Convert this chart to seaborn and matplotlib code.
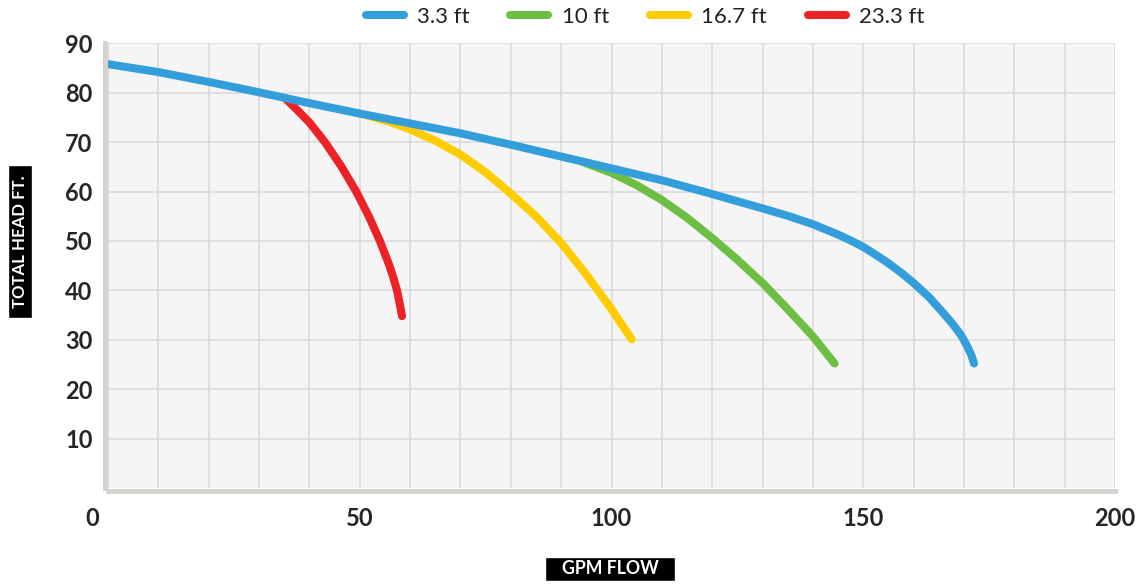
import pandas as pd
import seaborn as sns
import matplotlib.pyplot as plt
from matplotlib.lines import Line2D
from matplotlib.patches import Rectangle

# curve readings: flow (gpm) vs total head (ft)
blue_gpm = [0, 10, 20, 30, 40, 50, 60, 70, 80, 90, 100, 110, 120, 130, 135, 140, 145, 147.5, 150, 152.5, 155, 157.5, 160, 163, 166, 168, 169.5, 170.7, 171.5, 172]
blue_head = [85.8, 84.2, 82.2, 80.1, 77.9, 75.8, 73.8, 71.8, 69.5, 67.1, 64.7, 62.3, 59.5, 56.6, 55.1, 53.4, 51.3, 50.1, 48.8, 47.2, 45.5, 43.6, 41.5, 38.7, 35.3, 32.9, 30.8, 28.6, 26.8, 25.2]

green_gpm = [94, 100, 105, 110, 115, 120, 125, 130, 135, 140, 144.3]
green_head = [66.1, 63.8, 61.3, 58.3, 54.7, 50.6, 46.2, 41.5, 36.2, 30.7, 25.2]

yellow_gpm = [51.5, 56, 60, 65, 70, 75, 80, 85, 90, 95, 100, 104]
yellow_head = [75.4, 74.1, 72.6, 70.3, 67.5, 63.9, 59.6, 55.0, 49.6, 43.2, 36.2, 30.1]

red_gpm = [35.2, 37.5, 40, 43.1, 46.4, 49.3, 51.8, 54.0, 55.9, 56.7, 57.4, 57.9, 58.4]
red_head = [78.9, 76.6, 74.0, 70.0, 65.0, 60.0, 55.0, 50.0, 45.0, 42.5, 40.0, 37.5, 34.8]

labels = ["3.3 ft", "10 ft", "16.7 ft", "23.3 ft"]
colors = ["#349edb", "#6dbf43", "#ffcc00", "#ed2227"]

x_ticks = [0, 50, 100, 150, 200]
y_ticks = [10, 20, 30, 40, 50, 60, 70, 80, 90]

series = [(blue_gpm, blue_head), (green_gpm, green_head), (yellow_gpm, yellow_head), (red_gpm, red_head)]
frames = []
for lab, (g, h) in zip(labels, series):
    frames.append(pd.DataFrame({"gpm": g, "head": h, "depth": lab}))
df = pd.concat(frames)

sns.set_style("white")
plt.rcParams['font.family'] = ['Lato', 'DejaVu Sans']

fig = plt.figure(figsize=(11.43, 5.86), dpi=100)
ax = fig.add_axes([108 / 1143, 98 / 586, 1007 / 1143, 444.6 / 586])
ax.set_facecolor("#f5f5f5")

# blue drawn last so it sits on top of the branches
draw_order = labels[::-1]
pal = dict(zip(labels, colors))
sns.lineplot(data=df, x="gpm", y="head", hue="depth", hue_order=draw_order,
             palette=pal, sort=False, estimator=None, linewidth=5.8,
             solid_capstyle="round", solid_joinstyle="round", legend=False, ax=ax)

ax.set_xlim(0, 200)
ax.set_ylim(0, 90)
ax.set_xticks(x_ticks)
ax.set_xticks(range(0, 201, 10), minor=True)
ax.set_yticks(y_ticks)
ax.grid(True, which="both", axis="x", color="#d9d9d9", linewidth=1.1, zorder=0)
ax.grid(True, which="major", axis="y", color="#d9d9d9", linewidth=1.1, zorder=0)
ax.set_axisbelow(True)

for s in ["top", "right"]:
    ax.spines[s].set_visible(False)
for s in ["left", "bottom"]:
    ax.spines[s].set_color("#d5d3cf")
    ax.spines[s].set_linewidth(3.6)
    ax.spines[s].set_position(("outward", 2.5))

ax.tick_params(axis="both", which="both", length=0)
ax.tick_params(axis="y", pad=8.5, labelsize=17)
ax.tick_params(axis="x", pad=11, labelsize=17)
ax.set_xticklabels(["", "50", "100", "150", "200"], fontweight="bold")
ax.set_yticklabels([str(v) for v in y_ticks], fontweight="bold")
ax.set_xlabel("")
ax.set_ylabel("")
ax.annotate("0", xy=(0, 0), xycoords=("data", "axes fraction"),
            xytext=(-9, -19), textcoords="offset pixels",
            ha="right", va="top", fontsize=17, fontweight="bold")

# axis titles: white text on black boxes
W, H = 1143, 586
fig.patches.append(Rectangle((8 / W, 1 - 318 / H), 24 / W, 153 / H,
                             transform=fig.transFigure, facecolor="black", zorder=2))
fig.text(20 / W, 1 - 241.5 / H, "TOTAL HEAD FT.", rotation=90, color="white",
         fontsize=12.1, fontweight="bold", ha="center", va="center", zorder=3)
fig.patches.append(Rectangle((545 / W, 1 - 581 / H), 130 / W, 24 / H,
                             transform=fig.transFigure, facecolor="black", zorder=2))
fig.text(610 / W, 1 - 569 / H, "GPM FLOW", color="white",
         fontsize=12.8, fontweight="bold", ha="center", va="center", zorder=3)

handles = [Line2D([0], [0], color=c, linewidth=5.8, solid_capstyle="round") for c in colors]
fig.legend(handles, labels, loc="center", bbox_to_anchor=(645 / W, 1 - 17 / H),
           ncol=4, frameon=False, fontsize=16, handlelength=1.7, handletextpad=0.6,
           columnspacing=1.85, labelcolor="#222222")

fig.savefig("out.png", dpi=100)
